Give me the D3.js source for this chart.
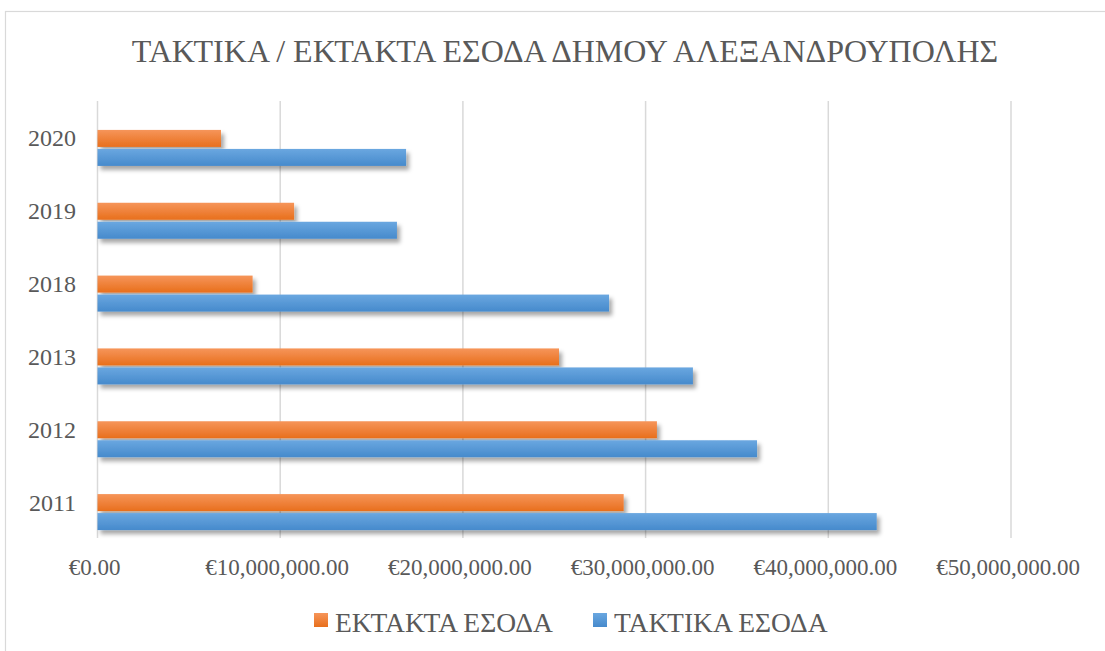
<!DOCTYPE html>
<html>
<head>
<meta charset="utf-8">
<script src="https://cdn.jsdelivr.net/npm/d3@7"></script>
<style>
  html, body { margin: 0; padding: 0; background: #fff; }
  svg { display: block; }
  text { font-family: "Liberation Serif", "Times New Roman", serif; fill: #595959; }
</style>
</head>
<body>
<svg id="chart" width="1105" height="651"></svg>
<script>
const title = "ΤΑΚΤΙΚΑ / ΕΚΤΑΚΤΑ ΕΣΟΔΑ ΔΗΜΟΥ ΑΛΕΞΑΝΔΡΟΥΠΟΛΗΣ";
const years = ["2020", "2019", "2018", "2013", "2012", "2011"];
const ektakta = [6760000, 10760000, 8490000, 25260000, 30620000, 28800000];
const taktika = [16890000, 16390000, 28000000, 32590000, 36100000, 42650000];
const seriesNames = ["ΕΚΤΑΚΤΑ ΕΣΟΔΑ", "ΤΑΚΤΙΚΑ ΕΣΟΔΑ"];
const xTicks = [0, 10000000, 20000000, 30000000, 40000000, 50000000];

const svg = d3.select("#chart");
const defs = svg.append("defs");

function grad(id, top, bottom) {
  const g = defs.append("linearGradient").attr("id", id)
    .attr("x1", 0).attr("y1", 0).attr("x2", 0).attr("y2", 1);
  g.append("stop").attr("offset", "0%").attr("stop-color", top);
  g.append("stop").attr("offset", "100%").attr("stop-color", bottom);
}
grad("gOrange", "#f6955a", "#e86f1c");
grad("gBlue", "#6aa7e0", "#468acc");

const f = defs.append("filter").attr("id", "shadow")
  .attr("x", "-5%").attr("y", "-30%").attr("width", "115%").attr("height", "190%");
f.append("feDropShadow").attr("dx", 3).attr("dy", 4).attr("stdDeviation", 2.2)
  .attr("flood-color", "#000").attr("flood-opacity", 0.35);

// outer frame
svg.append("rect").attr("x", 5.5).attr("y", 11.5).attr("width", 1120).attr("height", 660)
  .attr("fill", "#fff").attr("stroke", "#d9d9d9").attr("stroke-width", 1.2);

const x = d3.scaleLinear().domain([0, 50000000]).range([97.5, 1011]);
const y = d3.scaleBand().domain(years).range([101, 538]).padding(0);

// gridlines
svg.append("g").selectAll("line").data(xTicks).join("line")
  .attr("x1", d => x(d)).attr("x2", d => x(d))
  .attr("y1", 101).attr("y2", 538)
  .attr("stroke", "#d9d9d9").attr("stroke-width", 1.5);

// title
svg.append("text").attr("x", 565).attr("y", 62).attr("text-anchor", "middle")
  .attr("font-size", 32).text(title);

const barH = 17;
const bw = y.bandwidth();
const c = d => y(d) + bw / 2;

const gBars = svg.append("g").attr("filter", "url(#shadow)");
gBars.selectAll("rect.o").data(years).join("rect").attr("class", "o")
  .attr("x", x(0)).attr("y", d => c(d) - 7.5)
  .attr("width", (d, i) => x(ektakta[i]) - x(0)).attr("height", barH)
  .attr("fill", "url(#gOrange)");
gBars.selectAll("rect.b").data(years).join("rect").attr("class", "b")
  .attr("x", x(0)).attr("y", d => c(d) + 11.5)
  .attr("width", (d, i) => x(taktika[i]) - x(0)).attr("height", barH)
  .attr("fill", "url(#gBlue)");

// y labels
svg.append("g").selectAll("text").data(years).join("text")
  .attr("x", 76).attr("y", d => c(d) + 9).attr("text-anchor", "end")
  .attr("font-size", 24).text(d => d);

// x axis labels
const fmt = d => "€" + d3.format(",.2f")(d);
svg.append("g").selectAll("text").data(xTicks).join("text")
  .attr("x", d => x(d) - 3).attr("y", 575).attr("text-anchor", "middle")
  .attr("font-size", 23).text(fmt);

// legend
const legend = [
  { name: seriesNames[0], fill: "url(#gOrange)", sx: 314, tx: 335 },
  { name: seriesNames[1], fill: "url(#gBlue)", sx: 593, tx: 614 }
];
const lg = svg.append("g");
lg.selectAll("rect").data(legend).join("rect")
  .attr("x", d => d.sx).attr("y", 613).attr("width", 14).attr("height", 14)
  .attr("fill", d => d.fill);
lg.selectAll("text").data(legend).join("text")
  .attr("x", d => d.tx).attr("y", 632).attr("font-size", 27.5).text(d => d.name);
</script>
</body>
</html>
